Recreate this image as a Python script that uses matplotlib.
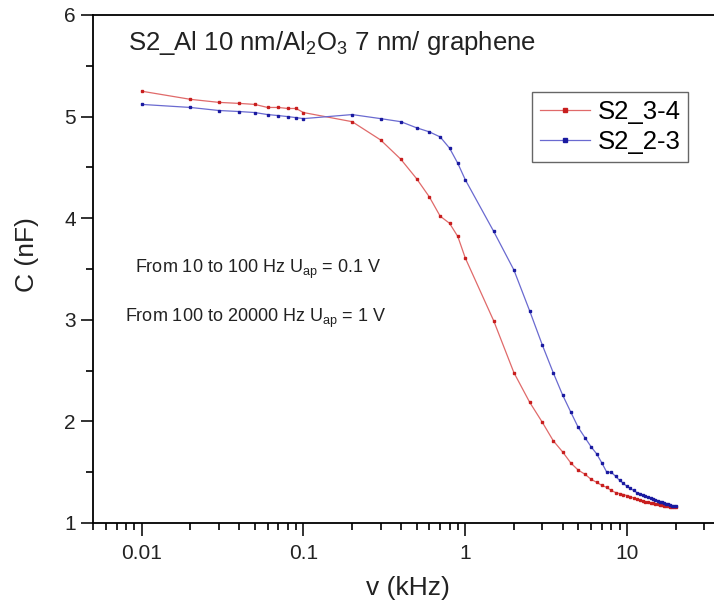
import numpy as np
import matplotlib
matplotlib.use("Agg")
import matplotlib.pyplot as plt
from matplotlib.ticker import LogLocator, NullFormatter, MultipleLocator

plt.rcParams['font.family'] = ['Liberation Sans', 'DejaVu Sans']
plt.rcParams['mathtext.fontset'] = 'custom'
plt.rcParams['mathtext.rm'] = 'Liberation Sans'
plt.rcParams['mathtext.it'] = 'Liberation Sans:italic'

# frequency (kHz)
f_low = [0.01, 0.02, 0.03, 0.04, 0.05, 0.06, 0.07, 0.08, 0.09, 0.1]
f_mid = [0.2, 0.3, 0.4, 0.5, 0.6, 0.7, 0.8, 0.9, 1.0]
f_high = [1.5, 2, 2.5, 3, 3.5, 4, 4.5, 5, 5.5, 6,
          6.5, 7, 7.5, 8, 8.5, 9, 9.5, 10, 10.5, 11,
          11.5, 12, 12.5, 13, 13.5, 14, 14.5, 15, 15.5, 16,
          16.5, 17, 17.5, 18, 18.5, 19, 19.5, 20]
freq = f_low + f_mid + f_high

# capacitance (nF)
c_34 = [5.25, 5.17, 5.14, 5.13, 5.12, 5.09, 5.09, 5.08, 5.08, 5.04,
        4.95, 4.77, 4.58, 4.39, 4.21, 4.02, 3.95, 3.82, 3.61,
        2.99, 2.48, 2.19, 1.99, 1.81, 1.70, 1.59, 1.52, 1.48, 1.43,
        1.40, 1.37, 1.35, 1.32, 1.30, 1.29, 1.28, 1.27, 1.26, 1.245,
        1.235, 1.225, 1.22, 1.21, 1.205, 1.20, 1.195, 1.19, 1.185, 1.18,
        1.175, 1.17, 1.168, 1.165, 1.162, 1.16, 1.157, 1.155]
c_23 = [5.12, 5.09, 5.06, 5.05, 5.04, 5.02, 5.01, 5.00, 4.99, 4.98,
        5.02, 4.98, 4.95, 4.89, 4.85, 4.80, 4.69, 4.54, 4.38,
        3.87, 3.49, 3.09, 2.75, 2.48, 2.26, 2.09, 1.94, 1.84, 1.75,
        1.68, 1.59, 1.50, 1.50, 1.46, 1.42, 1.39, 1.36, 1.34, 1.32,
        1.30, 1.29, 1.275, 1.265, 1.255, 1.245, 1.235, 1.23, 1.22, 1.21,
        1.205, 1.195, 1.19, 1.185, 1.178, 1.172, 1.168, 1.165]

xticks = [0.01, 0.1, 1, 10]
xticklabels = ['0.01', '0.1', '1', '10']

fig = plt.figure(figsize=(7.14, 6.05), dpi=100)
ax = fig.add_axes([93/714, 82/605, 621/714, 508/605])

ax.plot(freq, c_34, '-', color='#e06a6a', lw=0.9, marker='s', ms=1.9,
        mfc='#c81e1e', mec='#c81e1e', label='S2_3-4')
ax.plot(freq, c_23, '-', color='#6a6ad0', lw=0.9, marker='s', ms=1.9,
        mfc='#1a1aa0', mec='#1a1aa0', label='S2_2-3')

ax.set_xscale('log')
ax.set_xlim(0.005, 10**(1 + 87/161.7))
ax.set_ylim(1, 6)
ax.set_xticks(xticks)
ax.set_xticklabels(xticklabels)
ax.xaxis.set_minor_locator(LogLocator(base=10, subs=np.arange(2, 10)))
ax.xaxis.set_minor_formatter(NullFormatter())
ax.yaxis.set_major_locator(MultipleLocator(1))
ax.yaxis.set_minor_locator(MultipleLocator(0.5))

ax.spines['right'].set_visible(False)
for s in ['left', 'bottom', 'top']:
    ax.spines[s].set_linewidth(1.3)
ax.tick_params(which='major', direction='out', length=9, width=1.3,
               labelsize=15, colors='#222222')
ax.tick_params(which='minor', direction='out', length=5, width=1.2)
ax.tick_params(axis='x', which='major', pad=6)

fig.text(408/714, 1 - 588/605, 'v (kHz)', fontsize=19, ha='center', va='center',
         color='#222222')
fig.text(27/714, 1 - 255/605, 'C (nF)', fontsize=19, ha='center', va='center',
         rotation=90, color='#222222')

fig.text(128/714, 1 - 50/605, r'S2_Al 10 nm/Al$_2$O$_3$ 7 nm/ graphene',
         fontsize=18.5, ha='left', va='baseline', color='#222222')

fig.text(258/714, 1 - 273/605, r'From 10 to 100 Hz U$_{\mathrm{ap}}$ = 0.1 V',
         fontsize=13, ha='center', va='baseline', color='#222222')
fig.text(256/714, 1 - 322/605, r'From 100 to 20000 Hz U$_{\mathrm{ap}}$ = 1 V',
         fontsize=13, ha='center', va='baseline', color='#222222')

leg = ax.legend(loc='upper left', bbox_to_anchor=(532/714, 1 - 92/605),
                bbox_transform=fig.transFigure, borderaxespad=0,
                fontsize=18.5, fancybox=False, framealpha=1, edgecolor='#666666',
                handlelength=1.95, handletextpad=0.3, borderpad=0.3,
                labelspacing=0.25, numpoints=1, markerscale=1.2)
leg.get_frame().set_linewidth(1.0)

fig.savefig('out.png', dpi=100)
